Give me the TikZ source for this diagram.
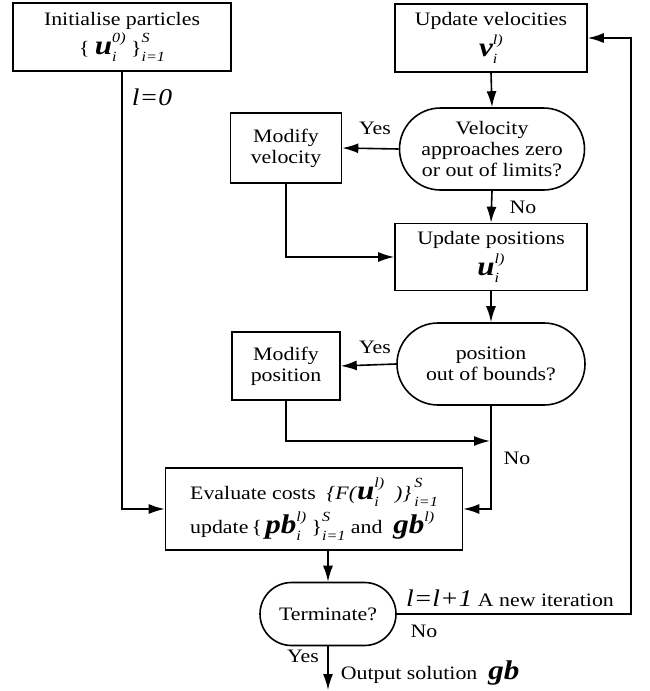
\documentclass[tikz,border=0pt]{standalone}
\usepackage{fontspec}
\setmainfont[FakeStretch=1.15]{Liberation Serif}
\usepackage{tikz}
\usetikzlibrary{positioning,shapes.misc,arrows.meta}

\newsavebox{\supbox}
\newsavebox{\subbox}
\newlength{\supsubwd}
\newcommand{\bvec}[1]{{\fontsize{27}{27}\selectfont\bfseries\itshape #1}}
\newcommand{\bigit}[1]{{\fontsize{24}{24}\selectfont\itshape #1}}
\newcommand{\supsub}[2]{{\fontsize{14}{14}\selectfont\itshape
  \sbox{\supbox}{#1}\sbox{\subbox}{#2}%
  \setlength{\supsubwd}{\wd\supbox}%
  \ifdim\wd\subbox>\supsubwd\setlength{\supsubwd}{\wd\subbox}\fi
  \makebox[\supsubwd][l]{\rlap{\raisebox{12pt}{\usebox{\supbox}}}\raisebox{-7pt}{\usebox{\subbox}}}}}

\begin{document}
\begin{tikzpicture}[x=1pt,y=-1pt,
  font=\fontsize{19}{21}\selectfont,
  line width=1.6pt,
  >={Latex[length=16pt,width=10pt]},
  box/.style={draw,rectangle,align=center,inner sep=2pt},
  decide/.style={draw,rounded rectangle,align=center,inner sep=2pt},
  lbl/.style={inner sep=0pt}]

\useasboundingbox (0,0) rectangle (649,691);

\node[box,minimum width=218pt,minimum height=68pt] (init) at (122,37)
  {Initialise particles\\[3pt] \{ \bvec{u}\supsub{0)}{i} \}\supsub{S}{i=1}};
\node[box,minimum width=192pt,minimum height=68pt] (vel) at (491,38)
  {Update velocities\\[4pt] \bvec{v}\supsub{l)}{i}};
\node[decide,minimum width=189pt,minimum height=82pt] (vdec) at (492,149)
  {Velocity\\ approaches zero\\ or out of limits?};
\node[box,minimum width=111pt,minimum height=70pt] (modv) at (286,148)
  {Modify\\ velocity};
\node[box,minimum width=192pt,minimum height=67pt] (pos) at (491,257)
  {Update positions\\[4pt] \bvec{u}\supsub{l)}{i}};
\node[decide,minimum width=192pt,minimum height=82pt] (pdec) at (491,364)
  {position\\ out of bounds?};
\node[box,minimum width=108pt,minimum height=68pt] (modp) at (286,366)
  {Modify\\ position};
\node[box,align=left,minimum width=297pt,minimum height=82pt] (eval) at (314,509)
  {Evaluate costs\ \ \textit{\{F(}\bvec{u}\supsub{l)}{i}\ \ \textit{)\}}\,\supsub{S}{i=1}\\[4pt]
   update\,\{\,\bvec{pb}\supsub{l)}{i}\ \}\supsub{S}{i=1} and\ \ \bvec{gb}\supsub{l)}{}};
\node[decide,minimum width=140pt,minimum height=63pt] (term) at (328,614)
  {Terminate?};

\coordinate (loopx) at (631,0);
\coordinate (join) at (490,441);
\coordinate (out) at (328,690);

\draw[->] (init.south) |- (eval.west);
\node[lbl] (l0) at (152,97) {\bigit{l=0}};

\draw[->] (vel.south) -- (vdec.north);
\draw[->] (vdec.west) -- (modv.east);
\node[lbl] (yes1) at (375,128) {Yes};
\draw[->] (vdec.south) -- (pos.north);
\node[lbl] (no1) at (523,207) {No};
\draw[->] (modv.south) |- (pos.west);

\draw[->] (pos.south) -- (pdec.north);
\draw[->] (pdec.west) -- (modp.east);
\node[lbl] (yes2) at (375,347) {Yes};
\draw[->] (modp.south) |- (join);
\draw[->] (pdec.south) |- (eval.east);
\node[lbl] (no2) at (517,458) {No};

\draw[->] (eval.south -| term.north) -- (term.north);
\draw[->] (term.east) -- (term.east -| loopx) |- (vel.east);
\node[lbl] (iter) at (510,598) {\bigit{l=l+1} A new iteration};
\node[lbl] (no3) at (424,631) {No};

\draw[->] (term.south) -- (out);
\node[lbl] (yes3) at (303,656) {Yes};
\node[lbl,anchor=west] (sol) at (340,673) {Output solution \ \bvec{gb}};

\end{tikzpicture}
\end{document}
